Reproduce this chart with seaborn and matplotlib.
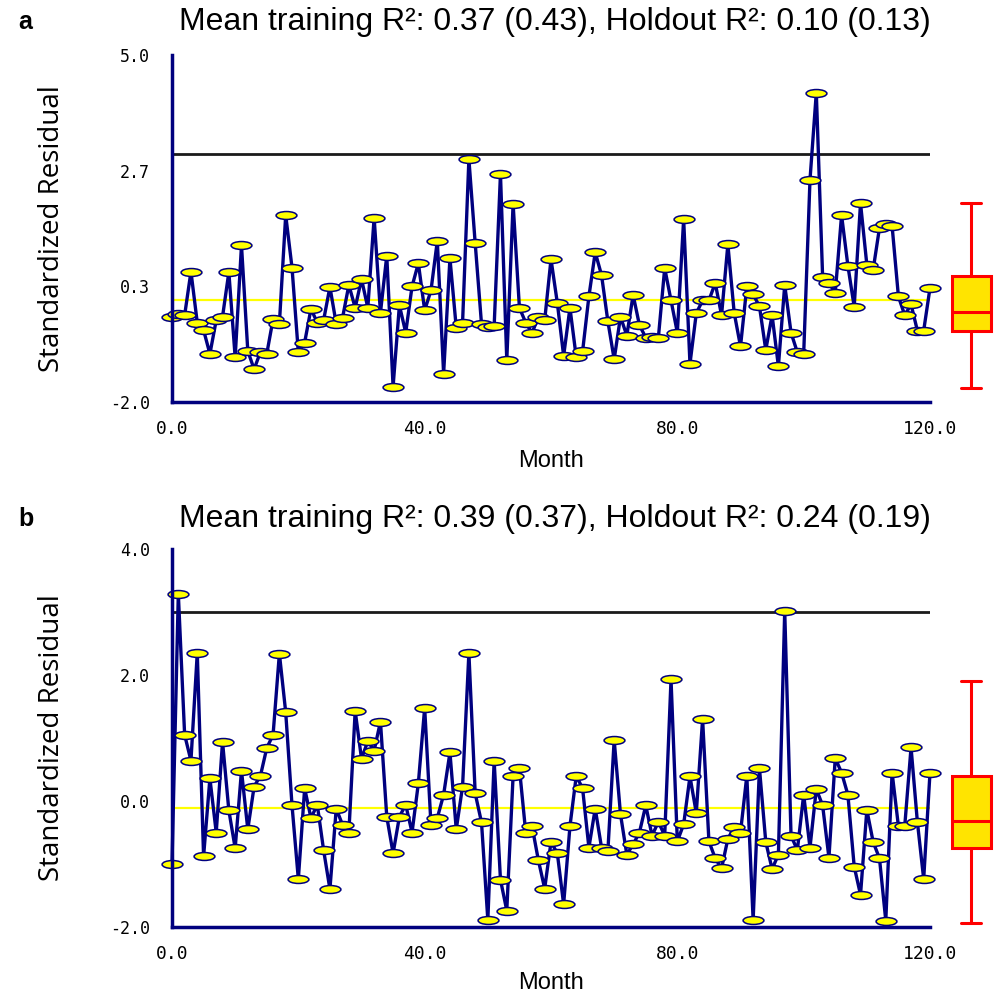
import numpy as np
import matplotlib
matplotlib.use("Agg")
import matplotlib.pyplot as plt
from matplotlib.path import Path
import seaborn as sns

# month index for both panels
months = np.arange(0, 121)

# panel a: standardized residuals
resid_a = [
    -0.28, -0.22, -0.25, 0.63, -0.40, -0.55, -1.03, -0.35, -0.28, 0.62,
    -1.10, 1.16, -0.97, -1.34, -0.99, -1.03, -0.33, -0.42, 1.77, 0.71,
    -1.00, -0.80, -0.12, -0.40, -0.35, 0.32, -0.42, -0.30, 0.36, -0.10,
    0.48, -0.10, 1.72, -0.20, 0.95, -1.69, -0.05, -0.60, 0.33, 0.80,
    -0.15, 0.25, 1.25, -1.43, 0.90, -0.50, -0.40, 2.90, 1.20, -0.43,
    -0.48, -0.47, 2.60, -1.16, 2.00, -0.10, -0.40, -0.61, -0.28, -0.35,
    0.88, 0.00, -1.07, -0.10, -1.10, -0.98, 0.13, 1.02, 0.56, -0.37,
    -1.14, -0.28, -0.66, 0.16, -0.45, -0.70, -0.68, -0.70, 0.70, 0.05,
    -0.60, 1.69, -1.23, -0.21, 0.05, 0.05, 0.40, -0.25, 1.18, -0.20,
    -0.88, 0.33, 0.17, -0.07, -0.95, -0.25, -1.28, 0.36, -0.60, -1.00,
    -1.04, 2.48, 4.24, 0.53, 0.40, 0.20, 1.77, 0.75, -0.08, 2.01,
    0.77, 0.67, 1.51, 1.60, 1.55, 0.13, -0.25, -0.03, -0.56, -0.56,
    0.30,
]

# panel b
resid_b = [
    -1.00, 3.29, 1.05, 0.64, 2.35, -0.88, 0.36, -0.50, 0.94, -0.15,
    -0.75, 0.48, -0.45, 0.23, 0.40, 0.84, 1.05, 2.34, 1.41, -0.07,
    -1.24, 0.20, -0.27, -0.06, -0.78, -1.40, -0.12, -0.38, -0.50, 1.43,
    0.67, 0.95, 0.80, 1.26, -0.25, -0.83, -0.25, -0.06, -0.50, 0.28,
    1.48, -0.38, -0.27, 0.10, 0.77, -0.45, 0.23, 2.35, 0.12, -0.34,
    -1.89, 0.64, -1.25, -1.74, 0.40, 0.52, -0.50, -0.40, -0.94, -1.39,
    -0.65, -0.83, -1.64, -0.40, 0.40, 0.20, -0.74, -0.12, -0.74, -0.80,
    0.97, -0.21, -0.85, -0.69, -0.50, -0.07, -0.55, -0.33, -0.55, 1.93,
    -0.64, -0.37, 0.39, -0.19, 1.30, -0.64, -0.91, -1.07, -0.60, -0.42,
    -0.50, 0.40, -1.89, 0.52, -0.65, -1.08, -0.85, 3.02, -0.55, -0.78,
    0.10, -0.74, 0.19, -0.07, -0.90, 0.68, 0.45, 0.10, -1.04, -1.49,
    -0.14, -0.65, -0.91, -1.90, 0.45, -0.40, -0.40, 0.85, -0.33, -1.24,
    0.45,
]

# five-number summaries of the side box plots (min, q1, median, q3, max)
box_a = [-1.71, -0.56, -0.18, 0.54, 2.02]
box_b = [-1.94, -0.74, -0.31, 0.40, 1.91]

# reference lines
limit_line = 3.0
mean_a = 0.05
mean_b = -0.11

titles = ["Mean training R\u00b2: 0.37 (0.43), Holdout R\u00b2: 0.10 (0.13)",
          "Mean training R\u00b2: 0.39 (0.37), Holdout R\u00b2: 0.24 (0.19)"]
panel_tags = ["a", "b"]

ylims = [(-2.0, 5.0), (-2.0, 4.0)]
ytick_vals = [[-2.0, 1 / 3, 8 / 3, 5.0], [-2.0, 0.0, 2.0, 4.0]]
ytick_labels = [["-2.0", "0.3", "2.7", "5.0"], ["-2.0", "0.0", "2.0", "4.0"]]
xtick_vals = np.arange(0, 121, 8)
xtick_labels = {0: "0.0", 40: "40.0", 80: "80.0", 120: "120.0"}

navy = "#00007f"
narrow = ["Liberation Sans Narrow", "DejaVu Sans Condensed", "Liberation Sans"]

sns.set_style("white")
plt.rcParams["font.family"] = ["Liberation Sans", "DejaVu Sans"]
plt.rcParams.update({"text.color": "black", "axes.labelcolor": "black",
                     "xtick.labelcolor": "black", "ytick.labelcolor": "black"})

fig = plt.figure(figsize=(9.98, 9.96), dpi=100)
W, H = 998, 996

# flat ellipse marker
circ = Path.unit_circle()
ellipse = Path(circ.vertices * np.array([1.0, 0.38]), circ.codes)

layout = [(55, 402), (549, 927)]   # top / bottom pixel rows of each panel
series = [resid_a, resid_b]
boxes = [box_a, box_b]
means = [mean_a, mean_b]
title_y = [22, 519]

for i in range(2):
    top, bot = layout[i]
    ax = fig.add_axes([172 / W, 1 - bot / H, 758 / W, (bot - top) / H])
    ax.axhline(limit_line, color="#1a1a1a", lw=2, zorder=1)
    ax.axhline(means[i], color="#ffff00", lw=1.6, zorder=1.5)
    sns.lineplot(x=months, y=series[i], ax=ax, color=navy, lw=2.4,
                 marker=ellipse, markersize=15, markerfacecolor="#ffff00",
                 markeredgecolor=navy, markeredgewidth=1.1, clip_on=False,
                 zorder=2)
    ax.set_xlim(0, 120)
    ax.set_ylim(*ylims[i])
    sns.despine(ax=ax)
    for s in ["left", "bottom"]:
        ax.spines[s].set_color(navy)
        ax.spines[s].set_linewidth(2.5)
    ax.set_yticks(ytick_vals[i])
    ax.set_yticklabels(ytick_labels[i], family="DejaVu Sans Mono", fontsize=12)
    ax.set_xticks(xtick_vals)
    ax.set_xticklabels([xtick_labels.get(int(v), "") for v in xtick_vals],
                       family="DejaVu Sans Mono", fontsize=13)
    ax.tick_params(axis="y", direction="out", length=11, width=2, color=navy, pad=5)
    ax.tick_params(axis="x", direction="out", length=5, width=2, color=navy, pad=8)
    ax.set_ylabel("Standardized Residual", family="Open Sans", fontsize=20)
    ax.yaxis.set_label_coords(-0.14, 0.5)
    ax.set_xlabel("Month", family=narrow, fontsize=17)
    ax.xaxis.set_label_coords(0.5, -0.137 if i == 0 else -0.12)

    # side box plot
    bax = fig.add_axes([945 / W, 1 - bot / H, 52 / W, (bot - top) / H])
    sns.boxplot(y=boxes[i], ax=bax, whis=(0, 100), width=0.75,
                color="#ffe400", linecolor="#ff0000", linewidth=2.2,
                saturation=1)
    bax.set_ylim(*ylims[i])
    bax.set_xlim(-0.5, 0.5)
    bax.axis("off")

    fig.text(18 / W, 1 - title_y[i] / H, panel_tags[i], fontsize=18,
             weight="bold", va="center", ha="left")
    fig.text(555 / W, 1 - title_y[i] / H, titles[i], fontsize=23,
             family=narrow, va="center", ha="center")

fig.savefig("out.png", dpi=100)
